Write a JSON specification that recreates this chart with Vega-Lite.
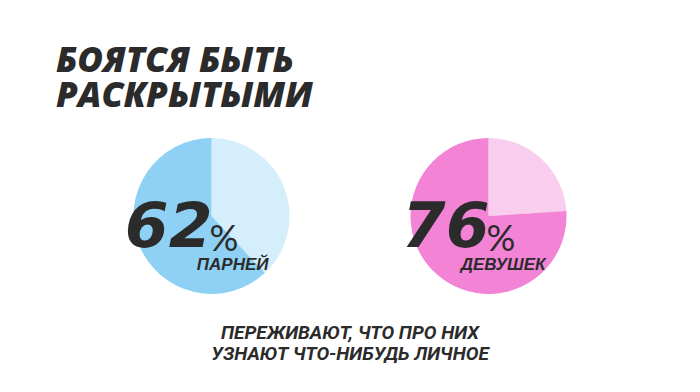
{
  "$schema": "https://vega.github.io/schema/vega-lite/v6.json",
  "background": "#ffffff",
  "padding": {"left": 0, "right": 0, "top": 44, "bottom": 0},
  "title": {
    "text": ["БОЯТСЯ БЫТЬ", "РАСКРЫТЫМИ"],
    "anchor": "start",
    "dx": 56,
    "font": "Open Sans",
    "fontSize": 35,
    "fontWeight": 800,
    "fontStyle": "italic",
    "lineHeight": 35,
    "color": "#2b2b2b",
    "offset": 17
  },
  "datasets": {
    "pies": [
      {"group": "ПАРНЕЙ", "segment": "boys_rest", "part": "rest", "value": 38, "order": 1},
      {"group": "ПАРНЕЙ", "segment": "boys_share", "part": "share", "value": 62, "order": 2},
      {"group": "ДЕВУШЕК", "segment": "girls_rest", "part": "rest", "value": 24, "order": 1},
      {"group": "ДЕВУШЕК", "segment": "girls_share", "part": "share", "value": 76, "order": 2}
    ],
    "caption": [
      {"caption": "ПЕРЕЖИВАЮТ, ЧТО ПРО НИХ\nУЗНАЮТ ЧТО-НИБУДЬ ЛИЧНОЕ"}
    ]
  },
  "vconcat": [
    {
      "data": {"name": "pies"},
      "facet": {
        "column": {"field": "group", "type": "nominal", "sort": ["ПАРНЕЙ", "ДЕВУШЕК"], "title": null, "header": {"labels": false, "title": null}}
      },
      "spacing": 77,
      "spec": {
        "width": 200,
        "height": 170,
        "layer": [
          {
            "mark": {"type": "arc", "outerRadius": 78},
            "encoding": {
              "theta": {"field": "value", "type": "quantitative", "stack": true},
              "order": {"field": "order", "type": "quantitative"},
              "color": {
                "field": "segment",
                "type": "nominal",
                "scale": {
                  "domain": ["boys_rest", "boys_share", "girls_rest", "girls_share"],
                  "range": ["#d4eefb", "#8fd1f5", "#f9cdee", "#f283d5"]
                },
                "legend": null
              }
            }
          },
          {
            "transform": [{"filter": "datum.part === 'share'"}],
            "mark": {"type": "text", "align": "right", "baseline": "alphabetic", "dx": 1, "dy": 31, "font": "DejaVu Sans", "fontWeight": "bold", "fontStyle": "italic", "fontSize": 63, "color": "#2b2b2b"},
            "encoding": {"text": {"field": "value", "type": "quantitative"}}
          },
          {
            "transform": [{"filter": "datum.part === 'share'"}],
            "mark": {"type": "text", "text": "%", "align": "left", "baseline": "alphabetic", "dx": -2, "dy": 35, "font": "Lato", "fontWeight": "normal", "fontSize": 36, "color": "#2b2b2b"},
            "encoding": {}
          },
          {
            "transform": [{"filter": "datum.part === 'share'"}],
            "mark": {"type": "text", "align": "right", "baseline": "alphabetic", "dx": 57, "dy": 54, "font": "Liberation Sans", "fontWeight": "bold", "fontStyle": "italic", "fontSize": 17, "color": "#2b2b2b"},
            "encoding": {"text": {"field": "group", "type": "nominal"}}
          }
        ]
      }
    },
    {
      "data": {"name": "caption"},
      "width": 700,
      "height": 44,
      "mark": {"type": "text", "align": "center", "baseline": "middle", "lineBreak": "\n", "lineHeight": 21, "font": "Roboto", "fontWeight": "bold", "fontStyle": "italic", "fontSize": 19, "color": "#2b2b2b"},
      "encoding": {"text": {"field": "caption", "type": "nominal"}}
    }
  ],
  "center": true,
  "spacing": 10,
  "config": {
    "view": {"stroke": null},
    "concat": {"spacing": 10}
  }
}
